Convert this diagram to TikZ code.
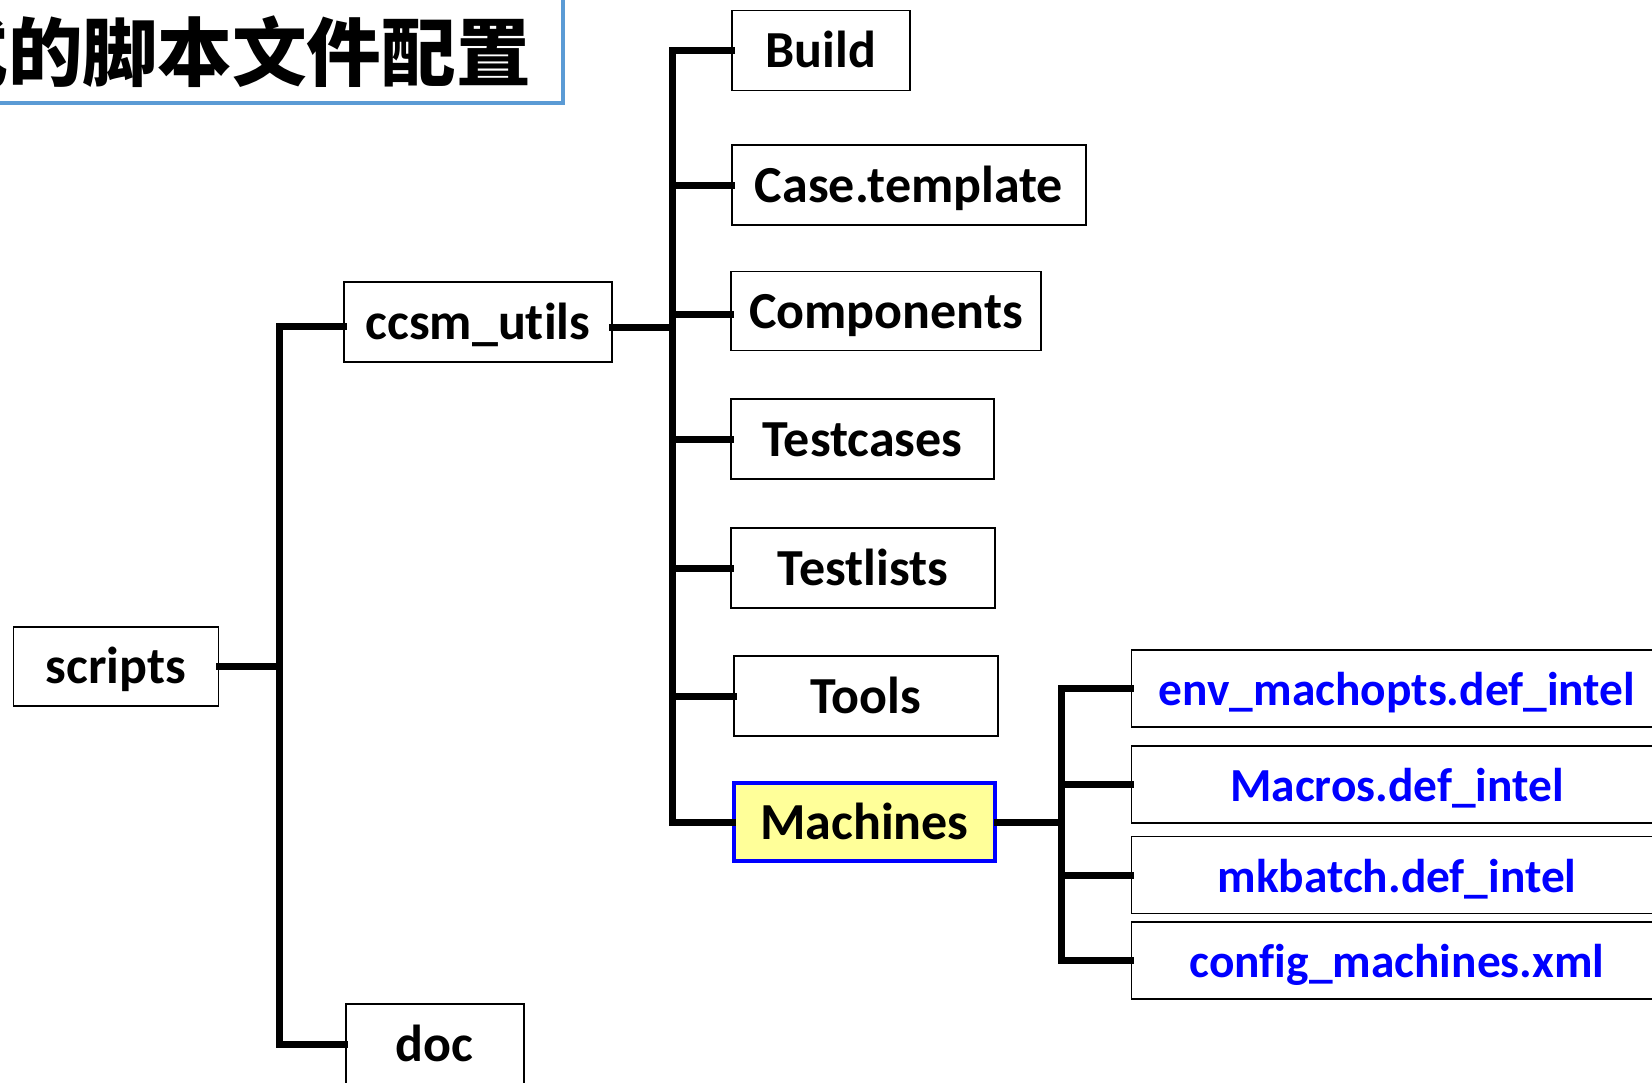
\documentclass[tikz,border=0pt]{standalone}
\usepackage{fontspec}
\setmainfont{Carlito}[Ligatures=NoCommon]
\newfontfamily\cjk{Noto Sans CJK SC}
\definecolor{titleblue}{RGB}{91,155,213}
\definecolor{hiyellow}{RGB}{255,255,153}
\definecolor{fileblue}{RGB}{0,0,255}
\tikzset{
  dirbox/.style={draw=black, line width=0.9pt, fill=white, inner sep=0pt,
    minimum height=40pt, text height=21.6pt, text depth=4.4pt,
    font=\fontsize{26}{30}\selectfont\bfseries},
  filebox/.style={draw=black, line width=0.9pt, fill=white, inner sep=0pt,
    minimum width=265.5pt, minimum height=38.5pt, text=fileblue,
    text height=20.2pt, text depth=2.8pt,
    font=\fontsize{23.7}{28}\selectfont\bfseries},
  hibox/.style={dirbox, draw=fileblue, fill=hiyellow, line width=2pt},
  wire/.style={line width=3.5pt, line join=miter, line cap=rect}
}
\begin{document}
\begin{tikzpicture}[x=0.5pt, y=-0.5pt]
\useasboundingbox (0,0) rectangle (1652,1082);
\clip (0,0) rectangle (1652,1082);

% title banner
\draw[titleblue, line width=1.6pt] (-20,-20) rectangle (563,103);
\node[anchor=base east, inner sep=0pt, font=\cjk\bfseries\fontsize{37.3}{40}\selectfont]
  (title) at (531,80) {式的脚本文件配置};

% directory boxes
\node[dirbox, minimum width=102.5pt, minimum height=39.5pt] (scripts) at (116,666.5) {scripts};
\node[dirbox, minimum width=134pt] (ccsm) at (478,322) {ccsm\_utils};
\node[dirbox, minimum width=89pt] (doc) at (434.6,1044) {doc};

\node[dirbox, minimum width=89pt] (build) at (821,50.5) {Build};
\node[dirbox, minimum width=177pt] (case) at (909,185) {Case.template};
\node[dirbox, minimum width=155pt, minimum height=39.5pt] (comp) at (886,311) {Components};
\node[dirbox, minimum width=131.5pt] (tcases) at (862.5,439) {Testcases};
\node[dirbox, minimum width=132pt] (tlists) at (863,568) {Testlists};
\node[dirbox, minimum width=132pt] (tools) at (866,696) {Tools};
\node[hibox, minimum width=130.5pt, minimum height=39pt] (mach) at (864.5,822) {Machines};

% machine files
\node[filebox] (env) at (1397,688.5) {env\_machopts.def\_intel};
\node[filebox] (macros) at (1397,784.5) {Macros.def\_intel};
\node[filebox] (mkbatch) at (1397,875) {mkbatch.def\_intel};
\node[filebox] (config) at (1397,960.5) {config\_machines.xml};

% bus positions of the three trees
\coordinate (busA) at (279,666.5);
\coordinate (busB) at (672,327);
\coordinate (busC) at (1061,822);

% scripts tree
\draw[wire] ([yshift=-2pt]ccsm.west) -| (busA) |- (doc.west);
\draw[wire] (scripts.east) -- (busA);

% ccsm_utils tree
\draw[wire] (build.west) -| (busB) |- (mach.west);
\draw[wire] ([yshift=-2.5pt]ccsm.east) -- (busB);
\draw[wire] (case.west) -- (case.west -| busB);
\draw[wire] ([yshift=-1.5pt]comp.west) -- ([yshift=-1.5pt]comp.west -| busB);
\draw[wire] (tcases.west) -- (tcases.west -| busB);
\draw[wire] (tlists.west) -- (tlists.west -| busB);
\draw[wire] (tools.west) -- (tools.west -| busB);

% Machines tree
\draw[wire] (env.west) -| (busC) |- (config.west);
\draw[wire] (mach.east) -- (busC);
\draw[wire] (macros.west) -- (macros.west -| busC);
\draw[wire] (mkbatch.west) -- (mkbatch.west -| busC);
\end{tikzpicture}
\end{document}
